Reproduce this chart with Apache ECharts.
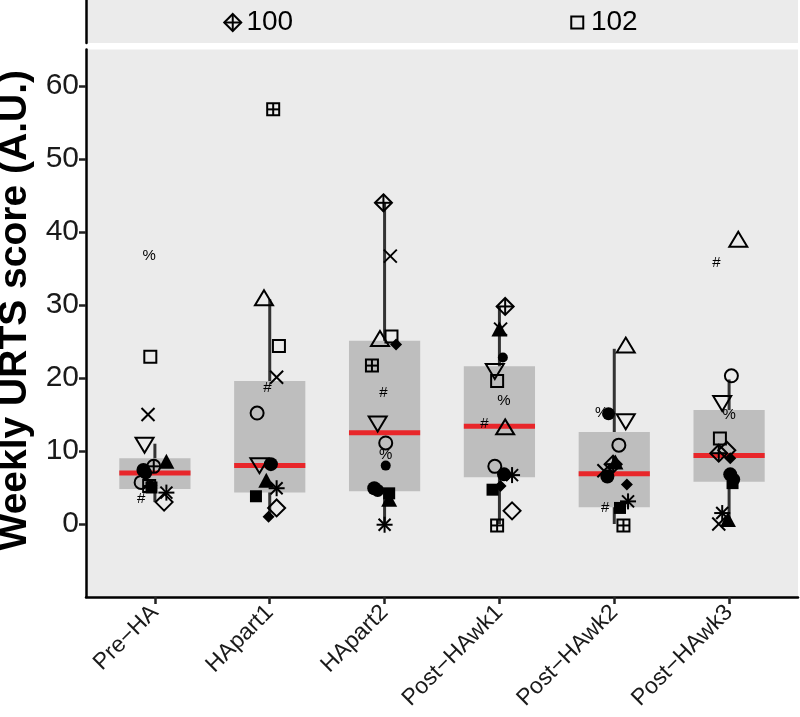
<!DOCTYPE html>
<html><head><meta charset="utf-8">
<script src="https://cdn.jsdelivr.net/npm/echarts@6/dist/echarts.min.js"></script>
<style>html,body{margin:0;padding:0;background:#fff}#c{width:800px;height:717px}</style>
</head><body><div id="c"></div>
<script>
// ---------------- DATA ----------------
const categories = ['Pre\u2212HA', 'HApart1', 'HApart2', 'Post\u2212HAwk1', 'Post\u2212HAwk2', 'Post\u2212HAwk3'];
const yTicks = [0, 10, 20, 30, 40, 50, 60];

// box summary per category
const whiskerLow  = [3.0, 1.0, 0.0, 0.0, 0.0, 0.0];
const quart1      = [4.8, 4.3, 4.5, 6.4, 2.3, 5.8];
const medians     = [7.0, 8.0, 12.5, 13.4, 6.9, 9.4];
const quart3      = [9.0, 19.6, 25.1, 21.6, 12.6, 15.6];
const whiskerHigh = [11.0, 30.8, 44.0, 29.8, 24.0, 19.8];

// participant values per category (null = not shown)
const sqOpen      = [22.9, 24.4, 25.7, 19.6, null, 11.7];
const circOpen    = [5.7, 15.2, 11.1, 7.9, 10.8, 20.3];
const triOpen     = [null, 30.8, 25.2, 13.1, 24.3, 38.8];
const cross       = [15.0, 20.1, 36.7, 26.7, 7.3, 0.0];
const diaOpen     = [3.0, 2.2, null, 1.8, null, 10.1];
const triDownOpen = [11.0, 8.2, 13.9, 21.1, 14.2, 16.7];
const asterisk    = [4.3, 4.9, -0.1, 6.7, 3.1, 1.5];
const diaPlus     = [null, null, 44.0, 29.8, 8.2, 9.7];
const circPlus    = [7.9, null, null, null, null, null];
const sqPlus      = [5.2, 56.8, 21.7, -0.2, -0.2, null];
const sqFill      = [5.0, 3.8, 4.2, 4.7, 2.2, 5.6];
const circFill    = [7.4, 8.2, 4.9, 6.8, 6.5, 6.8];
const triFill     = [8.4, 5.8, 3.2, 26.5, 8.3, 0.4];
const diaFill     = [5.3, 1.0, 24.6, 5.2, 5.4, 9.0];
const dotFill     = [null, null, 8.0, 22.8, null, null];
const hashMark    = [3.4, 18.6, 18.0, 13.7, 2.2, 35.8];
const pctMark     = [36.7, null, 9.5, 16.9, 15.2, 14.9];
const circFill2   = [7.0, null, 4.6, null, 15.1, 6.1];

// horizontal jitter (category units)
const jSqOpen      = [-0.04, 0.08, 0.06, -0.02, 0, -0.08];
const jCircOpen    = [-0.12, -0.11, 0.01, -0.04, 0.04, 0.02];
const jTriOpen     = [0, -0.05, -0.04, 0.05, 0.10, 0.08];
const jCross       = [-0.06, 0.06, 0.05, 0.01, -0.09, -0.09];
const jDiaOpen     = [0.08, 0.06, 0, 0.11, 0, -0.02];
const jTriDownOpen = [-0.09, -0.09, -0.06, -0.04, 0.10, -0.06];
const jAsterisk    = [0.10, 0.06, 0.0, 0.11, 0.12, -0.06];
const jDiaPlus     = [0, 0, -0.01, 0.05, -0.01, -0.09];
const jCircPlus    = [-0.01, 0, 0, 0, 0, 0];
const jSqPlus      = [-0.05, 0.03, -0.11, -0.02, 0.08, 0];
const jSqFill      = [-0.03, -0.12, 0.04, -0.06, 0.05, 0.03];
const jCircFill    = [-0.10, 0.01, -0.09, 0.04, -0.06, 0.01];
const jTriFill     = [0.10, -0.03, 0.04, 0.0, 0.01, -0.01];
const jDiaFill     = [-0.03, -0.01, 0.10, 0.01, 0.11, 0.01];
const jDotFill     = [0, 0, 0.01, 0.03, 0, 0];
const jHashMark    = [-0.12, -0.02, -0.01, -0.13, -0.08, -0.11];
const jPctMark     = [-0.05, 0, 0.01, 0.04, -0.11, 0.0];
const jCircFill2   = [-0.08, 0, -0.06, 0, -0.05, 0.04];

// values above the plotted range (shown in the top strip)
const offScaleCats   = [1, 4];
const offScaleValues = [100, 102];
const offScaleShapes = ['diaPlus', 'sqOpen'];

// ---------------- BUILD ----------------
const participants = [
  ['sqOpen', sqOpen, jSqOpen], ['circOpen', circOpen, jCircOpen], ['triOpen', triOpen, jTriOpen],
  ['cross', cross, jCross], ['diaOpen', diaOpen, jDiaOpen], ['triDownOpen', triDownOpen, jTriDownOpen],
  ['asterisk', asterisk, jAsterisk], ['diaPlus', diaPlus, jDiaPlus], ['circPlus', circPlus, jCircPlus],
  ['sqPlus', sqPlus, jSqPlus], ['sqFill', sqFill, jSqFill], ['circFill', circFill, jCircFill],
  ['triFill', triFill, jTriFill], ['diaFill', diaFill, jDiaFill], ['dotFill', dotFill, jDotFill],
  ['hashMark', hashMark, jHashMark], ['pctMark', pctMark, jPctMark], ['circFill2', circFill2, jCircFill2]
];
const shapeNames = participants.map(p => p[0]);
const pointData = [];
participants.forEach((p, si) => {
  p[1].forEach((v, ci) => { if (v !== null) pointData.push([ci + p[2][ci], v, si]); });
});
const boxData = categories.map((c, i) => [i, whiskerLow[i], quart1[i], medians[i], quart3[i], whiskerHigh[i]]);
const stripData = offScaleCats.map((c, i) => [c, 0.5, shapeNames.indexOf(offScaleShapes[i]), offScaleValues[i]]);

const FONT = '"Liberation Sans", Arial, Helvetica, sans-serif';
const LW = 2;
function open(style) { return Object.assign({ stroke: '#000', lineWidth: LW, fill: 'none' }, style || {}); }
function shapeEl(kind, x, y) {
  switch (kind) {
    case 'sqOpen': return { type: 'rect', shape: { x: x - 6, y: y - 6, width: 12, height: 12 }, style: open() };
    case 'circOpen': return { type: 'circle', shape: { cx: x, cy: y, r: 6.5 }, style: open() };
    case 'triOpen': return { type: 'polygon', shape: { points: [[x, y - 9], [x + 9, y + 6], [x - 9, y + 6]] }, style: open() };
    case 'triDownOpen': return { type: 'polygon', shape: { points: [[x, y + 9], [x + 9, y - 6], [x - 9, y - 6]] }, style: open() };
    case 'cross': return { type: 'group', children: [
      { type: 'line', shape: { x1: x - 6.5, y1: y - 6.5, x2: x + 6.5, y2: y + 6.5 }, style: open() },
      { type: 'line', shape: { x1: x - 6.5, y1: y + 6.5, x2: x + 6.5, y2: y - 6.5 }, style: open() }] };
    case 'diaOpen': return { type: 'polygon', shape: { points: [[x, y - 8.5], [x + 8.5, y], [x, y + 8.5], [x - 8.5, y]] }, style: open() };
    case 'asterisk': return { type: 'group', children: [
      { type: 'line', shape: { x1: x - 8, y1: y, x2: x + 8, y2: y }, style: open() },
      { type: 'line', shape: { x1: x, y1: y - 8, x2: x, y2: y + 8 }, style: open() },
      { type: 'line', shape: { x1: x - 6, y1: y - 6, x2: x + 6, y2: y + 6 }, style: open() },
      { type: 'line', shape: { x1: x - 6, y1: y + 6, x2: x + 6, y2: y - 6 }, style: open() }] };
    case 'diaPlus': return { type: 'group', children: [
      { type: 'polygon', shape: { points: [[x, y - 8.5], [x + 8.5, y], [x, y + 8.5], [x - 8.5, y]] }, style: open() },
      { type: 'line', shape: { x1: x - 8.5, y1: y, x2: x + 8.5, y2: y }, style: open() },
      { type: 'line', shape: { x1: x, y1: y - 8.5, x2: x, y2: y + 8.5 }, style: open() }] };
    case 'circPlus': return { type: 'group', children: [
      { type: 'circle', shape: { cx: x, cy: y, r: 6.5 }, style: open() },
      { type: 'line', shape: { x1: x - 6.5, y1: y, x2: x + 6.5, y2: y }, style: open() },
      { type: 'line', shape: { x1: x, y1: y - 6.5, x2: x, y2: y + 6.5 }, style: open() }] };
    case 'sqPlus': return { type: 'group', children: [
      { type: 'rect', shape: { x: x - 6, y: y - 6, width: 12, height: 12 }, style: open() },
      { type: 'line', shape: { x1: x - 6, y1: y, x2: x + 6, y2: y }, style: open() },
      { type: 'line', shape: { x1: x, y1: y - 6, x2: x, y2: y + 6 }, style: open() }] };
    case 'sqFill': return { type: 'rect', shape: { x: x - 6, y: y - 6, width: 12, height: 12 }, style: { fill: '#000' } };
    case 'circFill': return { type: 'circle', shape: { cx: x, cy: y, r: 7 }, style: { fill: '#000' } };
    case 'circFill2': return { type: 'circle', shape: { cx: x, cy: y, r: 6.5 }, style: { fill: '#000' } };
    case 'triFill': return { type: 'polygon', shape: { points: [[x, y - 9], [x + 8, y + 6], [x - 8, y + 6]] }, style: { fill: '#000' } };
    case 'diaFill': return { type: 'polygon', shape: { points: [[x, y - 6], [x + 6, y], [x, y + 6], [x - 6, y]] }, style: { fill: '#000' } };
    case 'dotFill': return { type: 'circle', shape: { cx: x, cy: y, r: 5 }, style: { fill: '#000' } };
    case 'hashMark': return { type: 'text', x: x, y: y, style: { text: '#', fill: '#000', font: '15px ' + FONT, align: 'center', verticalAlign: 'middle' } };
    case 'pctMark': return { type: 'text', x: x, y: y, style: { text: '%', fill: '#000', font: '15px ' + FONT, align: 'center', verticalAlign: 'middle' } };
  }
  return null;
}

const chart = echarts.init(document.getElementById('c'), null, { renderer: 'canvas' });
const axisBlack = { show: true, onZero: false, lineStyle: { color: '#000', width: 2.5 } };
chart.setOption({
  animation: false,
  backgroundColor: '#fff',
  grid: [
    { left: 86, right: 2, top: 49.5, bottom: 120, show: true, backgroundColor: '#EBEBEB', borderWidth: 0,
      containLabel: false, outerBoundsMode: 'none' },
    { left: 86, right: 2, top: 0, height: 43, show: true, backgroundColor: '#EBEBEB', borderWidth: 0,
      containLabel: false, outerBoundsMode: 'none' }
  ],
  xAxis: [
    { type: 'value', gridIndex: 0, min: -0.6, max: 5.6, axisLine: axisBlack, splitLine: { show: false },
      axisTick: { show: true, customValues: [0, 1, 2, 3, 4, 5], length: 7, lineStyle: { color: '#222', width: 2.5 } },
      axisLabel: { customValues: [0, 1, 2, 3, 4, 5], rotate: 45, margin: 12, fontSize: 23, color: '#1a1a1a', fontFamily: FONT,
        formatter: v => categories[Math.round(v)] } },
    { type: 'value', gridIndex: 1, min: -0.6, max: 5.6, show: false }
  ],
  yAxis: [
    { type: 'value', gridIndex: 0, min: -10, max: 65, axisLine: axisBlack, splitLine: { show: false },
      axisTick: { show: true, customValues: yTicks, length: 7, lineStyle: { color: '#222', width: 2.5 } },
      axisLabel: { customValues: yTicks, fontSize: 30, color: '#1a1a1a', fontFamily: FONT, margin: 7 },
      name: 'Weekly URTS score (A.U.)', nameLocation: 'middle', nameGap: 43,
      nameTextStyle: { fontSize: 39, fontWeight: 'bold', color: '#000', fontFamily: FONT, padding: [0, 0, 0, 26] } },
    { type: 'value', gridIndex: 1, min: 0, max: 1, axisLine: axisBlack, axisTick: { show: false },
      axisLabel: { show: false }, splitLine: { show: false } }
  ],
  series: [
    { type: 'custom', xAxisIndex: 0, yAxisIndex: 0, z: 2, data: boxData,
      encode: { x: 0, y: [1, 2, 3, 4, 5] },
      renderItem: function (params, api) {
        const c = api.value(0);
        const lo = api.coord([c, api.value(1)]), a = api.coord([c, api.value(2)]), m = api.coord([c, api.value(3)]),
              b = api.coord([c, api.value(4)]), hi = api.coord([c, api.value(5)]);
        const half = api.size([0.31, 0])[0];
        return { type: 'group', children: [
          { type: 'line', shape: { x1: lo[0], y1: lo[1], x2: hi[0], y2: hi[1] }, style: { stroke: '#333', lineWidth: 3 } },
          { type: 'rect', shape: { x: a[0] - half, y: b[1], width: half * 2, height: a[1] - b[1] }, style: { fill: '#BEBEBE' } },
          { type: 'line', shape: { x1: m[0] - half, y1: m[1], x2: m[0] + half, y2: m[1] }, style: { stroke: '#E8262A', lineWidth: 5 } }
        ] };
      } },
    { type: 'custom', xAxisIndex: 0, yAxisIndex: 0, z: 5, clip: false, data: pointData,
      encode: { x: 0, y: 1 },
      renderItem: function (params, api) {
        const p = api.coord([api.value(0), api.value(1)]);
        return shapeEl(shapeNames[api.value(2)], p[0], p[1]);
      } },
    { type: 'custom', xAxisIndex: 1, yAxisIndex: 1, z: 5, clip: false, data: stripData,
      encode: { x: 0, y: 1 },
      renderItem: function (params, api) {
        const p = api.coord([api.value(0), api.value(1)]);
        const sym = shapeEl(shapeNames[api.value(2)], p[0] - 37, p[1] + 1);
        return { type: 'group', children: [sym,
          { type: 'text', x: p[0], y: p[1] + 1, style: { text: String(api.value(3)), fill: '#000', font: '28px ' + FONT, align: 'center', verticalAlign: 'middle' } }] };
      } }
  ]
});
</script></body></html>
